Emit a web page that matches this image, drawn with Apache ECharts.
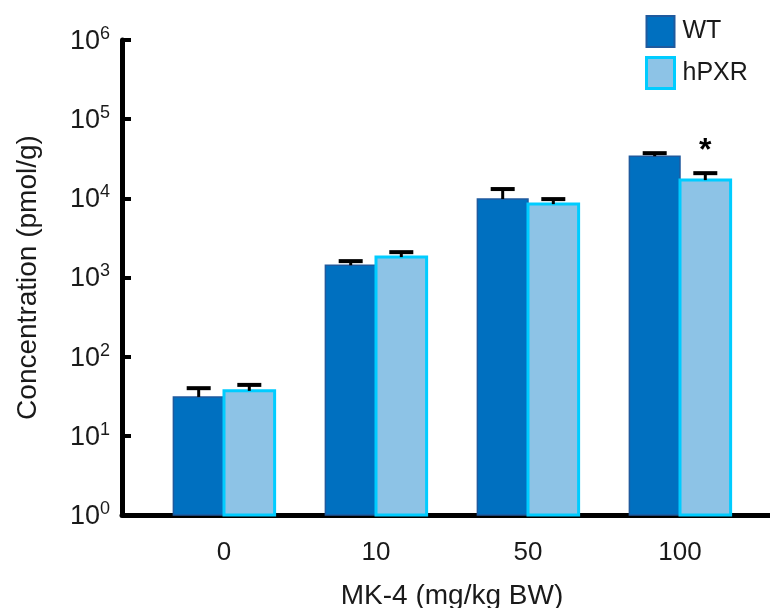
<!DOCTYPE html>
<html>
<head>
<meta charset="utf-8">
<script src="https://cdn.jsdelivr.net/npm/echarts@6/dist/echarts.min.js"></script>
<style>
  html, body { margin: 0; padding: 0; background: #fff; }
  #chart { width: 770px; height: 608px; }
</style>
</head>
<body>
<div id="chart"></div>
<script>
// data
const categories = ['0', '10', '50', '100'];
const wtMean = [31, 1430, 9800, 34000];
const wtSd = [9, 180, 3300, 3200];
const hpxrMean = [37, 1810, 8450, 17000];
const hpxrSd = [7, 280, 1330, 3800];
const hpxrSig = ['', '', '', '*'];

const textColor = '#1a1a1a';
const fontFamily = 'Liberation Sans, Arial, sans-serif';

// one custom series = bars + error bars of one group
const makeRender = (side, fill, stroke, strokeWidth, sig) => (params, api) => {
  const idx = api.value(0);
  const mean = api.value(1);
  const sd = api.value(2);
  const band = api.size([1, 0])[0];
  const w = band * 0.333;
  const center = api.coord([idx, mean]);
  const base = api.coord([idx, 1]);
  const capY = api.coord([idx, mean + sd])[1];
  const x = side < 0 ? center[0] - w : center[0];
  const cx = x + w / 2;
  const children = [
    {
      type: 'rect',
      shape: { x: x, y: center[1], width: w, height: base[1] - center[1] },
      style: { fill: fill, stroke: stroke, lineWidth: strokeWidth }
    },
    {
      type: 'line',
      shape: { x1: cx, y1: center[1], x2: cx, y2: capY },
      style: { stroke: '#000', lineWidth: 3 }
    },
    {
      type: 'line',
      shape: { x1: cx - 12, y1: capY, x2: cx + 12, y2: capY },
      style: { stroke: '#000', lineWidth: 4 }
    }
  ];
  if (sig && sig[idx]) {
    children.push({
      type: 'text',
      style: {
        x: cx, y: capY - 22, text: sig[idx], fill: '#000',
        font: 'bold 32px ' + fontFamily, align: 'center', verticalAlign: 'middle'
      }
    });
  }
  return { type: 'group', children: children };
};

const supLabel = (v) => '{b|10}{s|' + Math.round(Math.log10(v)) + '}';

const option = {
  animation: false,
  textStyle: { fontFamily: fontFamily, color: textColor },
  legend: {
    orient: 'vertical',
    left: 645,
    top: 15,
    padding: 0,
    itemWidth: 28,
    itemHeight: 31,
    itemGap: 8,
    icon: 'rect',
    textStyle: { fontSize: 25, color: textColor, padding: [0, 0, 0, 3] },
    data: [
      { name: 'WT', itemStyle: { color: '#0070c0', borderColor: '#1f5a9e', borderWidth: 2 } },
      { name: 'hPXR', itemStyle: { color: '#8dc3e6', borderColor: '#00ccff', borderWidth: 3 } }
    ]
  },
  grid: [
    { left: 122, right: 0, top: 40, bottom: 93, outerBoundsMode: 'none' },
    { left: 148, right: 14, top: 40, bottom: 93, outerBoundsMode: 'none' }
  ],
  xAxis: [
    {
      type: 'value', gridIndex: 0, min: 0, max: 1,
      axisLine: { show: true, onZero: false, lineStyle: { color: '#000', width: 5 } },
      axisTick: { show: false },
      axisLabel: { show: false },
      splitLine: { show: false }
    },
    {
      type: 'category', gridIndex: 1, data: categories,
      axisLine: { show: false },
      axisTick: { show: false },
      axisLabel: { fontSize: 26, color: textColor, margin: 25 },
      name: 'MK-4 (mg/kg BW)',
      nameLocation: 'middle',
      nameGap: 67,
      nameTextStyle: { fontSize: 28, color: textColor }
    }
  ],
  yAxis: [
    {
      type: 'log', gridIndex: 0, logBase: 10, min: 1, max: 1000000, interval: 1,
      axisLine: { show: true, lineStyle: { color: '#000', width: 5 } },
      axisTick: { show: true, inside: true, length: 9, lineStyle: { color: '#000', width: 4 } },
      splitLine: { show: false },
      axisLabel: {
        margin: 12,
        formatter: supLabel,
        rich: {
          b: { fontSize: 27, color: textColor, lineHeight: 30, verticalAlign: 'bottom' },
          s: { fontSize: 18, color: textColor, lineHeight: 30, verticalAlign: 'top' }
        }
      },
      name: 'Concentration (pmol/g)',
      nameLocation: 'middle',
      nameGap: 80,
      nameTextStyle: { fontSize: 28, color: textColor }
    },
    {
      type: 'log', gridIndex: 1, logBase: 10, min: 1, max: 1000000, show: false
    }
  ],
  series: [
    {
      name: 'WT',
      type: 'custom',
      xAxisIndex: 1,
      yAxisIndex: 1,
      itemStyle: { color: '#0070c0' },
      renderItem: makeRender(-1, '#0070c0', '#1f5a9e', 1.5, null),
      data: wtMean.map((v, i) => [i, v, wtSd[i]])
    },
    {
      name: 'hPXR',
      type: 'custom',
      xAxisIndex: 1,
      yAxisIndex: 1,
      itemStyle: { color: '#8dc3e6' },
      renderItem: makeRender(1, '#8dc3e6', '#00ccff', 3, hpxrSig),
      data: hpxrMean.map((v, i) => [i, v, hpxrSd[i]])
    }
  ]
};

const chartInstance = echarts.init(document.getElementById('chart'));
chartInstance.setOption(option);
</script>
</body>
</html>
